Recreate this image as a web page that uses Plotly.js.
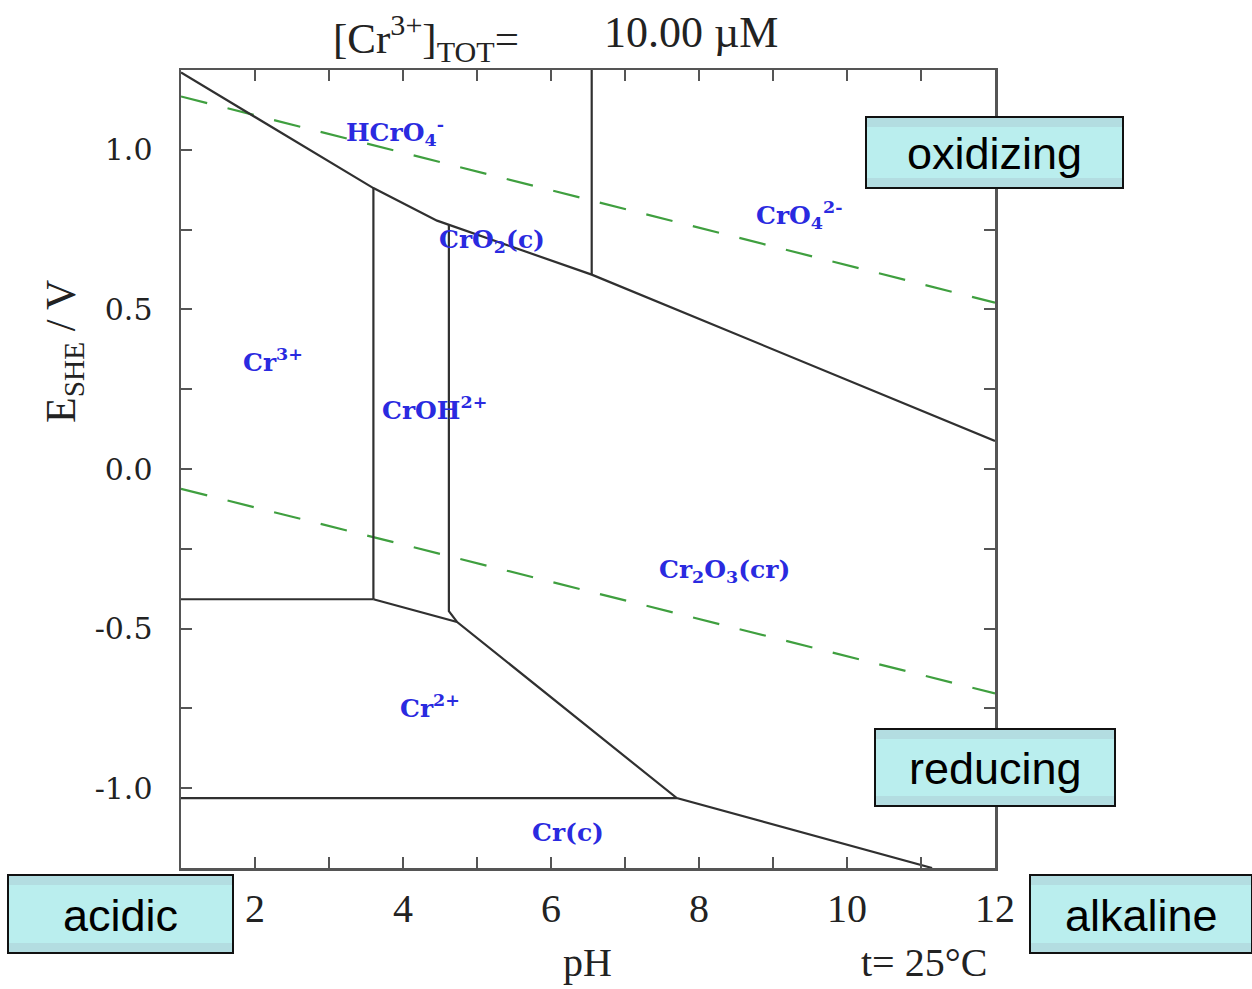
<!DOCTYPE html>
<html>
<head>
<meta charset="utf-8">
<script src="https://cdn.plot.ly/plotly-3.0.1.min.js"></script>
<style>html,body{margin:0;padding:0;background:#fff;}#chart{width:1252px;height:989px;}</style>
</head>
<body>
<div id="chart"></div>
<script>
// ---- data (pH, E_SHE in V) ----
const upperPH = [1.0, 3.60, 4.46, 6.55, 12.0];
const upperE  = [1.242, 0.880, 0.778, 0.609, 0.088];

const chromatePH = [6.55, 6.55];
const chromateE  = [1.25, 0.609];

const cr3CrohPH = [3.60, 3.60];
const cr3CrohE  = [0.880, -0.408];

const crohOxPH = [4.62, 4.62, 4.73];
const crohOxE  = [0.765, -0.445, -0.479];

const cr3Cr2PH = [1.0, 3.60];
const cr3Cr2E  = [-0.408, -0.408];

const lowerPH = [3.60, 4.73, 7.70, 11.15];
const lowerE  = [-0.408, -0.479, -1.031, -1.25];

const cr2CrPH = [1.0, 7.70];
const cr2CrE  = [-1.031, -1.031];

const o2PH = [1.0, 12.0];
const o2E  = [1.167, 0.521];
const h2PH = [1.0, 12.0];
const h2E  = [-0.062, -0.703];

const speciesNames = ['HCrO<sub>4</sub><sup>-</sup>', 'CrO<sub>4</sub><sup>2-</sup>', 'CrO<sub>2</sub>(c)', 'Cr<sup>3+</sup>',
                      'CrOH<sup>2+</sup>', 'Cr<sub>2</sub>O<sub>3</sub>(cr)', 'Cr<sup>2+</sup>', 'Cr(c)'];
const speciesPH = [3.89, 9.36, 5.20, 2.24, 4.43, 8.35, 4.36, 6.23];
const speciesE  = [1.056, 0.797, 0.715, 0.340, 0.190, -0.320, -0.744, -1.140];

const xTickVals = [2, 4, 6, 8, 10, 12];
const xTickText = ['2', '4', '6', '8', '10', '12'];
const xMinorVals = [1, 3, 5, 7, 9, 11];
const yTickVals = [-1.0, -0.5, 0.0, 0.5, 1.0];
const yTickText = ['-1.0', '-0.5', '0.0', '0.5', '1.0'];
const yMinorVals = [-1.25, -0.75, -0.25, 0.25, 0.75, 1.25];

const boxLabels = ['oxidizing', 'reducing', 'acidic', 'alkaline'];

// ---- chart ----
const blk = {color: '#303030', width: 2.2};
const grn = {color: '#3f9f3f', width: 2.2, dash: '27px,21px'};
function ln(x, y, line) { return {x: x, y: y, mode: 'lines', line: line, hoverinfo: 'skip', showlegend: false}; }

const traces = [
  ln(o2PH, o2E, grn), ln(h2PH, h2E, grn),
  ln(upperPH, upperE, blk), ln(chromatePH, chromateE, blk),
  ln(cr3CrohPH, cr3CrohE, blk), ln(crohOxPH, crohOxE, blk),
  ln(cr3Cr2PH, cr3Cr2E, blk), ln(lowerPH, lowerE, blk), ln(cr2CrPH, cr2CrE, blk)
];

const L = 181, R = 995, T = 70, B = 868, W = R - L, H = B - T;
function px(x) { return (x - L) / W; }
function py(y) { return (B - y) / H; }

const boxPx = [[866, 117, 1123, 188], [875, 729, 1115, 806], [8, 875, 233, 953], [1030, 875, 1252, 953]];
const shapes = [];
const annotations = [];
boxPx.forEach(function (b, i) {
  shapes.push({type: 'rect', xref: 'paper', yref: 'paper', x0: px(b[0]), x1: px(b[2]), y0: py(b[3]), y1: py(b[1]),
    fillcolor: '#baeeee', line: {color: '#111', width: 2}, layer: 'above'});
  shapes.push({type: 'rect', xref: 'paper', yref: 'paper', x0: px(b[0] + 1), x1: px(b[2] - 1), y0: py(b[1] + 10), y1: py(b[1] + 1),
    fillcolor: '#b3dde1', line: {width: 0}, layer: 'above'});
  shapes.push({type: 'rect', xref: 'paper', yref: 'paper', x0: px(b[0] + 1), x1: px(b[2] - 1), y0: py(b[3] - 1), y1: py(b[3] - 10),
    fillcolor: '#b3dde1', line: {width: 0}, layer: 'above'});
  annotations.push({xref: 'paper', yref: 'paper', x: px((b[0] + b[2]) / 2), y: py((b[1] + b[3]) / 2 + 1),
    xanchor: 'center', yanchor: 'middle', showarrow: false, text: boxLabels[i],
    font: {family: 'Liberation Sans, Arial', size: 45, color: '#000'}});
});

speciesNames.forEach(function (t, i) {
  annotations.push({xref: 'x', yref: 'y', x: speciesPH[i], y: speciesE[i], text: t, showarrow: false,
    xanchor: 'center', yanchor: 'middle', font: {family: 'DejaVu Serif', size: 25, weight: 'bold', color: '#2a2ae0'}});
});

const serif = {family: 'Liberation Serif', color: '#222'};
annotations.push({xref: 'paper', yref: 'paper', x: px(426), y: py(38), xanchor: 'center', yanchor: 'middle', showarrow: false,
  text: '[Cr<sup>3+</sup>]<sub>TOT</sub>=', font: Object.assign({size: 43}, serif)});
annotations.push({xref: 'paper', yref: 'paper', x: px(691), y: py(33), xanchor: 'center', yanchor: 'middle', showarrow: false,
  text: '10.00 \u00b5M', font: Object.assign({size: 44}, serif)});
annotations.push({xref: 'paper', yref: 'paper', x: px(64), y: py(352), xanchor: 'center', yanchor: 'middle', showarrow: false,
  textangle: -90, text: 'E<sub>SHE</sub> / V', font: Object.assign({size: 42}, serif)});
annotations.push({xref: 'paper', yref: 'paper', x: px(587), y: py(962), xanchor: 'center', yanchor: 'middle', showarrow: false,
  text: 'pH', font: Object.assign({size: 40}, serif)});
annotations.push({xref: 'paper', yref: 'paper', x: px(924), y: py(962), xanchor: 'center', yanchor: 'middle', showarrow: false,
  text: 't= 25\u00b0C', font: Object.assign({size: 40}, serif)});

const axisCommon = {showgrid: false, zeroline: false, showline: true, linecolor: '#555', linewidth: 2.5,
  mirror: 'ticks', ticks: 'inside', ticklen: 11, tickwidth: 2, tickcolor: '#555', fixedrange: true};

const layout = {
  width: 1252, height: 989,
  margin: {l: L, r: 1252 - R, t: T, b: 989 - B, pad: 0},
  paper_bgcolor: '#ffffff', plot_bgcolor: '#ffffff',
  showlegend: false,
  xaxis: Object.assign({}, axisCommon, {range: [1, 12], tickmode: 'array', tickvals: xTickVals, ticktext: xTickText,
    minor: {tickmode: 'array', tickvals: xMinorVals, ticks: 'inside', ticklen: 11, tickwidth: 2, tickcolor: '#555', showgrid: false},
    tickfont: {family: 'Liberation Serif', size: 40, color: '#222'}, ticklabelstandoff: 3}),
  yaxis: Object.assign({}, axisCommon, {range: [-1.25, 1.25], tickmode: 'array', tickvals: yTickVals, ticktext: yTickText,
    minor: {tickmode: 'array', tickvals: yMinorVals, ticks: 'inside', ticklen: 11, tickwidth: 2, tickcolor: '#555', showgrid: false},
    tickfont: {family: 'DejaVu Serif', size: 30, color: '#222'}, ticklabelstandoff: 20}),
  shapes: shapes,
  annotations: annotations
};

Plotly.newPlot('chart', traces, layout, {displayModeBar: false, staticPlot: true});
</script>
</body>
</html>
